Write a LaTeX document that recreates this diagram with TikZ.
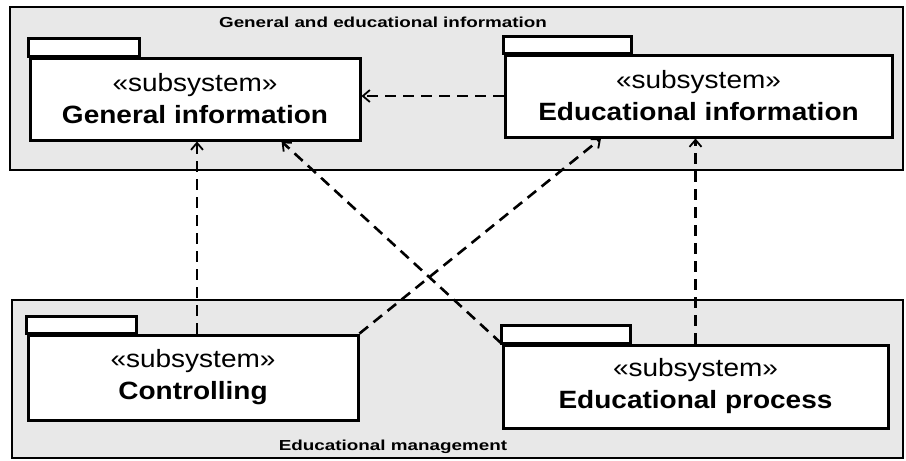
\documentclass[tikz,border=0pt]{standalone}
\usepackage{fontspec}
\usetikzlibrary{arrows.meta,calc}
\setmainfont{Liberation Sans}
\newfontfamily\pkgfont[FakeStretch=1.12]{Liberation Sans}
\newfontfamily\areafont[FakeStretch=1.3]{Liberation Sans}
\definecolor{areafill}{HTML}{E8E8E8}
\tikzset{
  area/.style={draw=black, line width=2pt, fill=areafill},
  areatitle/.style={font=\areafont\bfseries\fontsize{14.5}{16}\selectfont, inner sep=0pt},
  pkgbody/.style={draw=black, line width=3pt, fill=white, align=center,
    font=\pkgfont\fontsize{25}{32}\selectfont, inner sep=0pt},
  pkgtab/.style={draw=black, line width=2.6pt, fill=white},
  dep/.style={draw=black, line width=2.6pt, dash pattern=on 11pt off 7pt,
    -{Straight Barb[length=7pt,width=12pt,line width=1.8pt]}},
}
\begin{document}
\begin{tikzpicture}[x=1pt,y=-1pt]
  \useasboundingbox (0,0) rectangle (906,461);
  \fill[white] (0,0) rectangle (906,461);

  % the two grouping areas
  \draw[area] (10,7) rectangle (903,170);
  \draw[area] (12,300) rectangle (903,458);
  \node[areatitle] (toptitle) at (383,22) {General and educational information};
  \node[areatitle] (bottomtitle) at (393,447) {Educational management};

  % subsystem packages
  \node[pkgbody, minimum width=330pt, minimum height=82pt] (gi) at (195,99)
    {«subsystem»\\\textbf{General information}};
  \node[pkgbody, minimum width=387pt, minimum height=82pt] (ei) at (698.5,96)
    {«subsystem»\\\textbf{Educational information}};
  \node[pkgbody, minimum width=330pt, minimum height=85pt] (ct) at (193,377.5)
    {«subsystem»\\\textbf{Controlling}};
  \node[pkgbody, minimum width=385pt, minimum height=83pt] (ep) at (695.5,386.5)
    {«subsystem»\\\textbf{Educational process}};

  % package tabs
  \draw[pkgtab] (gi.north west) rectangle ++(111,-18);
  \draw[pkgtab] (ei.north west) rectangle ++(128,-17);
  \draw[pkgtab] (ct.north west) rectangle ++(110,-17);
  \draw[pkgtab] (ep.north west) rectangle ++(129,-18);

  % dependencies
  \coordinate (giB) at ($(gi.south west)!0.76!(gi.south east)$);
  \coordinate (eiB) at ($(ei.south west)!0.25!(ei.south east)$);
  \draw[dep] (ei.west) -- (ei.west -| gi.east);
  \draw[dep] ([xshift=4pt]ct.north) -- ([xshift=4pt]ct.north |- gi.south);
  \draw[dep] (ct.north east) -- (eiB);
  \draw[dep] (ep.north west) -- (giB);
  \draw[dep] (ep.north) -- (ep.north |- ei.south);
\end{tikzpicture}
\end{document}
